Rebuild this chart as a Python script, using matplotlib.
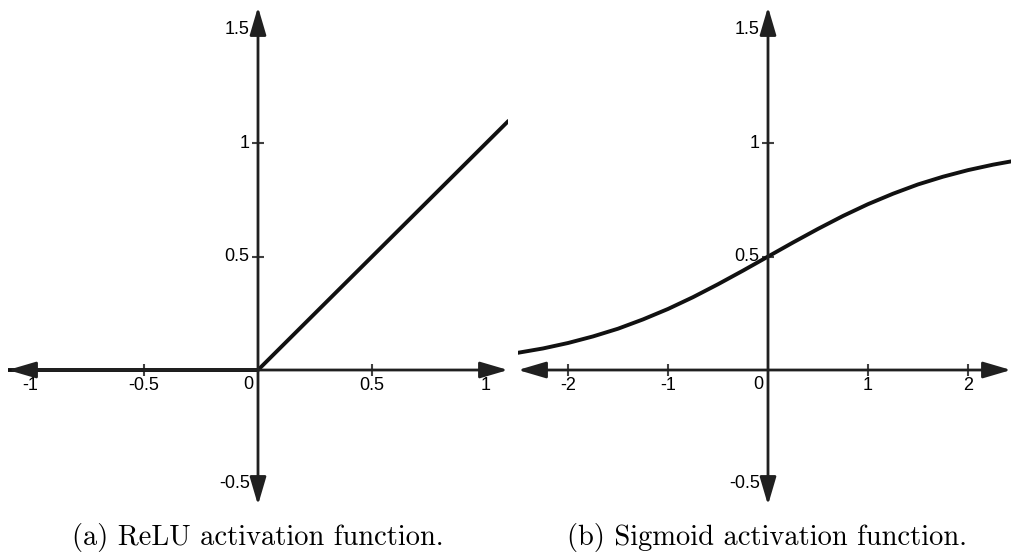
import matplotlib
matplotlib.use('Agg')
import matplotlib.pyplot as plt
import matplotlib.transforms as mtransforms

# ReLU panel
relu_x = [-1.1, 0.0, 1.1]
relu_y = [0.0, 0.0, 1.1]
relu_xticks = [-1, -0.5, 0.5, 1]
relu_xlabels = ['-1', '-0.5', '0.5', '1']

# Sigmoid panel, values
sig_x = [-2.5, -2.25, -2.0, -1.75, -1.5, -1.25, -1.0, -0.75, -0.5, -0.25, 0.0,
         0.25, 0.5, 0.75, 1.0, 1.25, 1.5, 1.75, 2.0, 2.25, 2.45]
sig_y = [0.076, 0.095, 0.119, 0.148, 0.182, 0.223, 0.269, 0.321, 0.378, 0.438, 0.5,
         0.562, 0.622, 0.679, 0.731, 0.777, 0.818, 0.852, 0.881, 0.905, 0.921]
sig_xticks = [-2, -1, 1, 2]
sig_xlabels = ['-2', '-1', '1', '2']

yticks = [-0.5, 0.5, 1, 1.5]
ylabels = ['-0.5', '0.5', '1', '1.5']
captions = ['(a) ReLU activation function.', '(b) Sigmoid activation function.']

W, H = 1011, 555
AX_COL = '#404040'
TICK_FS = 13
plt.rcParams['font.family'] = ['Liberation Sans', 'DejaVu Sans']

fig = plt.figure(figsize=(W / 100, H / 100), dpi=100)


def make_axes(px_left, px_right, xlim, ylim):
    ax = fig.add_axes([px_left / W, (H - 505) / H, (px_right - px_left) / W, 498 / H])
    ax.set_xlim(*xlim)
    ax.set_ylim(*ylim)
    for s in ['top', 'right', 'left', 'bottom']:
        ax.spines[s].set_visible(False)
    for s in ['left', 'bottom']:
        ax.spines[s].set_position(('data', 0))
    ax.tick_params(direction='inout', length=8, width=1.5, color=AX_COL,
                   labelsize=TICK_FS, pad=1)
    ax.tick_params(axis='y', pad=2)
    # axes with arrow heads
    style = '<|-|>,head_length=0.85,head_width=0.25'
    ax.annotate('', xy=(xlim[1], 0), xytext=(xlim[0], 0),
                arrowprops=dict(arrowstyle=style, color='#202020', lw=2,
                                mutation_scale=20, shrinkA=0, shrinkB=0))
    ax.annotate('', xy=(0, ylim[1]), xytext=(0, ylim[0]),
                arrowprops=dict(arrowstyle=style, color='#202020', lw=2,
                                mutation_scale=20, shrinkA=0, shrinkB=0))
    ax.set_yticks(yticks, ylabels)
    up = mtransforms.ScaledTranslation(0, 2 / 100, fig.dpi_scale_trans)
    for lab in ax.get_yticklabels():
        lab.set_transform(lab.get_transform() + up)
    ax.annotate('0', xy=(0, 0), xytext=(-5, -6), textcoords='offset pixels',
                ha='right', va='top', fontsize=TICK_FS)
    ax.patch.set_alpha(0)
    return ax


ax1 = make_axes(8, 508, (-1.096, 1.096), (-0.595, 1.6))
ax1.set_xticks(relu_xticks, relu_xlabels)
ax1.plot(relu_x, relu_y, color='#111111', lw=2.8, solid_capstyle='butt')

ax2 = make_axes(518, 1011, (-2.5, 2.43), (-0.595, 1.6))
ax2.set_xticks(sig_xticks, sig_xlabels)
ax2.plot(sig_x, sig_y, color='#111111', lw=2.8)

fig.text(258 / W, 1 - 537 / H, captions[0], family='cmr10', fontsize=20.5,
         ha='center', va='center')
fig.text(767 / W, 1 - 537 / H, captions[1], family='cmr10', fontsize=20.5,
         ha='center', va='center')

fig.savefig('out.png', dpi=100)
